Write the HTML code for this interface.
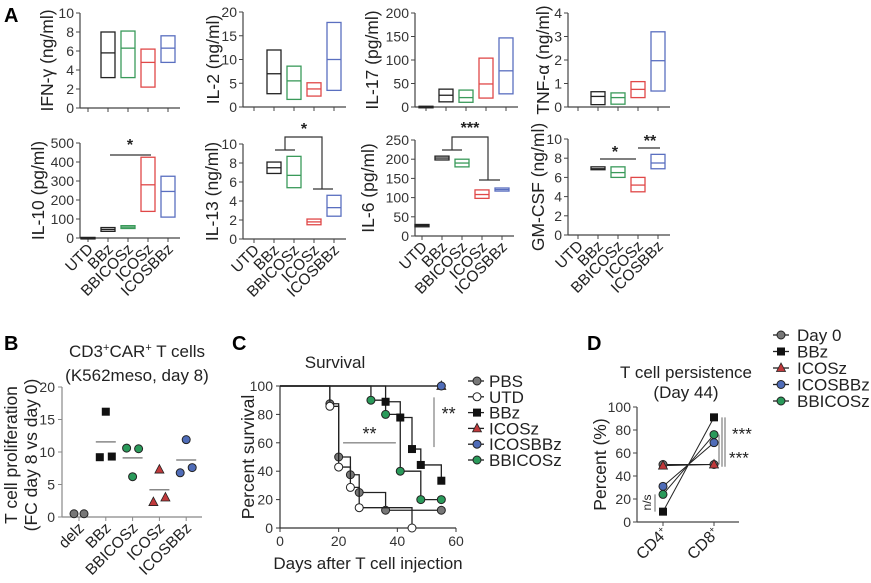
<!DOCTYPE html>
<html><head><meta charset="utf-8"><style>
body{margin:0;background:#fff}
svg{display:block;font-family:"Liberation Sans",sans-serif}
</style></head><body>
<svg id="fig" width="871" height="583" viewBox="0 0 871 583">
<text x="4" y="22" font-size="20" font-weight="bold">A</text>
<text x="4" y="350" font-size="20" font-weight="bold">B</text>
<text x="232" y="350" font-size="20" font-weight="bold">C</text>
<text x="587" y="350" font-size="20" font-weight="bold">D</text>
</svg>
<script>
const cats = ["UTD","BBz","BBICOSz","ICOSz","ICOSBBz"];
const ifnBoxes = [null,[3.2,5.8,8],[3.2,6.3,8.1],[2.2,4.8,6.2],[4.8,6.3,7.6]];
const il2Boxes = [null,[2.8,7,12],[1.6,5.5,8.6],[2.3,3.8,5.1],[3.5,10,17.8]];
const il17Boxes = [[0.5,1,1.5],[11,25,38],[10,20,36],[19,49,104],[28,77,147]];
const tnfBoxes = [null,[0.1,0.45,0.65],[0.12,0.4,0.6],[0.4,0.75,1.08],[0.68,1.97,3.2]];
const il10Boxes = [[1,2,3],[35,45,55],[50,57,65],[140,280,425],[110,245,325]];
const il13Boxes = [null,[6.9,7.5,8.1],[5.4,6.7,8.7],[1.5,1.8,2.1],[2.4,3.3,4.6]];
const il6Boxes = [[24,27,30],[198,203,208],[180,190,200],[98,108,120],[117,121,125]];
const gmBoxes = [null,[6.8,6.9,7.1],[6,6.5,7.1],[4.5,5.2,6],[6.9,7.5,8.4]];
const boxColors = ["#222","#222","#3a9a5a","#e04848","#5a6fc0"];

const bCats = ["delz","BBz","BBICOSz","ICOSz","ICOSBBz"];
const bPoints = [[0.5,0.5],[16.2,9.2,9.3],[10.6,10.5,6.2],[7.3,2.3,3.0],[11.9,6.8,7.6]];
const bTicks = [0,5,10,15,20];

const survNames = ["PBS","UTD","BBz","ICOSz","ICOSBBz","BBICOSz"];
const survDays = [[17,20,24,27,36,55],[17,20,24,27,45],[36,41,45,48,55],[55],[55],[31,36,41,48,55]];
const survPct = [[87.5,50,37.5,25,12.5,12.5],[85.7,42.9,28.6,14.3,0],[88.9,77.8,55.6,44.4,33.3],[100],[100],[90,80,40,20,20]];
const survXTicks = [0,20,40,60];
const survYTicks = [0,20,40,60,80,100];

const dNames = ["Day 0","BBz","ICOSz","ICOSBBz","BBICOSz"];
const dCD4 = [50,9,49,31,24];
const dCD8 = [50,91,50,69,76];
const dYTicks = [0,20,40,60,80,100];

const NS="http://www.w3.org/2000/svg";
const svg=document.getElementById('fig');
function mk(tag,attrs,parent){const e=document.createElementNS(NS,tag);for(const k in attrs)e.setAttribute(k,attrs[k]);(parent||svg).appendChild(e);return e;}
function txt(s,attrs,parent){const e=mk('text',attrs,parent);e.textContent=s;return e;}

const markerFill={"PBS":"#777","Day 0":"#777","UTD":"#fff","BBz":"#111","ICOSz":"#c0393b","ICOSBBz":"#4f6cb8","BBICOSz":"#2a9a5a"};
function marker(name,x,y,r,parent){
  let e;
  if(name==="BBz"){e=mk('rect',{x:x-r,y:y-r,width:2*r,height:2*r,fill:"#111"},parent);}
  else if(name==="ICOSz"){e=mk('polygon',{points:`${x},${y-r-1} ${x-r-0.5},${y+r-0.5} ${x+r+0.5},${y+r-0.5}`,fill:"#c0393b",stroke:"#222","stroke-width":0.8},parent);}
  else {e=mk('circle',{cx:x,cy:y,r:r,fill:markerFill[name],stroke:"#222","stroke-width":1},parent);}
  return e;
}

const aPanels=[
 {id:"ifn",label:"IFN-γ (ng/ml)",ax:80,yT:13,yB:108,max:10,ticks:[0,2,4,6,8,10],x0:88,lx:47,data:ifnBoxes,xl:false},
 {id:"il2",label:"IL-2 (ng/ml)",ax:243,yT:12,yB:107,max:20,ticks:[0,5,10,15,20],x0:254,lx:213,data:il2Boxes,xl:false},
 {id:"il17",label:"IL-17 (pg/ml)",ax:415,yT:13,yB:107,max:200,ticks:[0,50,100,150,200],x0:426,lx:372,data:il17Boxes,xl:false},
 {id:"tnf",label:"TNF-α (ng/ml)",ax:568,yT:13,yB:107,max:4,ticks:[0,1,2,3,4],x0:578,lx:543,data:tnfBoxes,xl:false},
 {id:"il10",label:"IL-10 (pg/ml)",ax:80,yT:143,yB:238,max:500,ticks:[0,100,200,300,400,500],x0:88,lx:38,data:il10Boxes,xl:true},
 {id:"il13",label:"IL-13 (ng/ml)",ax:243,yT:144,yB:239,max:10,ticks:[0,2,4,6,8,10],x0:254,lx:212,data:il13Boxes,xl:true},
 {id:"il6",label:"IL-6 (pg/ml)",ax:415,yT:140,yB:236,max:250,ticks:[0,50,100,150,200,250],x0:422,lx:368,data:il6Boxes,xl:true},
 {id:"gm",label:"GM-CSF (ng/ml)",ax:568,yT:139,yB:235,max:10,ticks:[0,2,4,6,8,10],x0:578,lx:538,data:gmBoxes,xl:true}
];
aPanels.forEach(p=>{
  const g=mk('g',{});
  
  
  const y=v=>p.yB-(v/p.max)*(p.yB-p.yT);
  const x=i=>p.x0+i*20;
  const end=p.x0+92;
  mk('line',{x1:p.ax,y1:p.yT,x2:p.ax,y2:p.yB,stroke:"#444","stroke-width":1.2},g);
  mk('line',{x1:p.ax,y1:p.yB,x2:end,y2:p.yB,stroke:"#444","stroke-width":1.2},g);
  p.ticks.forEach(t=>{
    mk('line',{x1:p.ax-4,y1:y(t),x2:p.ax,y2:y(t),stroke:"#444"},g);
    const tl=txt(String(t),{x:p.ax-6,y:y(t)+5,"font-size":14,"text-anchor":"end",fill:"#333"},g);
    
    
  });
  cats.forEach((c,i)=>{
    mk('line',{x1:x(i),y1:p.yB,x2:x(i),y2:p.yB+4,stroke:"#444"},g);
    if(p.xl){
      const cl=txt(c,{x:0,y:0,"font-size":15.5,"text-anchor":"end",fill:"#222",transform:`translate(${x(i)+6},${p.yB+12}) rotate(-45)`},g);
      
      
    }
    const d=p.data[i]; if(!d) return;
    const bx=mk('rect',{x:x(i)-7,y:y(d[2]),width:14,height:Math.max(1.5,y(d[0])-y(d[2])),fill:"none",stroke:boxColors[i],"stroke-width":1.3},g);
    
    
    mk('line',{x1:x(i)-7,y1:y(d[1]),x2:x(i)+7,y2:y(d[1]),stroke:boxColors[i],"stroke-width":1.3},g);
  });
  const yl=txt(p.label,{x:0,y:0,"font-size":17.5,"text-anchor":"middle","dominant-baseline":"central",fill:"#222",transform:`translate(${p.lx},${(p.yT+p.yB)/2}) rotate(-90)`},g);
  
  
});
function sig(pts,star,sx,sy){const g=mk('g',{});mk('polyline',{points:pts,fill:"none",stroke:"#333","stroke-width":1.2},g);if(star)txt(star,{x:sx,y:sy,"font-size":16,"text-anchor":"middle","font-weight":"bold",fill:"#222"},g);}
sig("110,155 151,155","*",130,150);
sig("275,150 295,150","",0,0);
sig("285,150 285,137 322,137 322,189","*",304,134);
sig("313,189 333,189","",0,0);
sig("442,150 462,150","",0,0);
sig("452,150 452,137 488,137 488,180","***",470,133);
sig("479,180 500,180","",0,0);
sig("600,159 636,159","*",615,157);
sig("638,148 660,148","**",650,146);

// Panel B
(function(){
  const ax=62,yT=387,yB=517,max=20;
  const y=v=>yB-(v/max)*(yB-yT);
  const x=i=>79+i*26.8;
  const g=mk('g',{});
  mk('line',{x1:ax,y1:yT,x2:ax,y2:yB,stroke:"#888","stroke-width":1.2},g);
  mk('line',{x1:ax,y1:yB,x2:202,y2:yB,stroke:"#888","stroke-width":1.2},g);
  bTicks.forEach(t=>{mk('line',{x1:ax-4,y1:y(t),x2:ax,y2:y(t),stroke:"#888"},g);txt(String(t),{x:ax-7,y:y(t)+5,"font-size":14,"text-anchor":"end",fill:"#333"},g);});
  const names=["Day 0","BBz","BBICOSz","ICOSz","ICOSBBz"];
  const offs2=[[-5,5],[0,-6,6],[-6,6,0],[0,-6,6],[0,-6,6]];
  bCats.forEach((c,i)=>{
    mk('line',{x1:x(i),y1:yB,x2:x(i),y2:yB+4,stroke:"#888"},g);
    const cl=txt(c,{x:0,y:0,"font-size":15.5,"text-anchor":"end",fill:"#222",transform:`translate(${x(i)+6},${yB+12}) rotate(-45)`},g);
    
    const pts=bPoints[i];
    const mean=pts.reduce((a,b)=>a+b,0)/pts.length;
    if(i>0) mk('line',{x1:x(i)-10,y1:y(mean),x2:x(i)+10,y2:y(mean),stroke:"#888","stroke-width":1.5},g);
    pts.forEach((v,j)=>{const m=marker(names[i],x(i)+offs2[i][j],y(v),4,g);});
  });
  const t1=txt("",{x:137,y:357,"font-size":17,"text-anchor":"middle",fill:"#222"},g);
  t1.innerHTML='CD3<tspan font-size="11" dy="-6">+</tspan><tspan dy="6">CAR</tspan><tspan font-size="11" dy="-6">+</tspan><tspan dy="6"> T cells</tspan>';
  txt("(K562meso, day 8)",{x:137,y:381,"font-size":17,"text-anchor":"middle",fill:"#222"},g);
  txt("T cell proliferation",{x:0,y:0,"font-size":17.5,"text-anchor":"middle",transform:"translate(17,455) rotate(-90)",fill:"#222"},g);
  txt("(FC day 8 vs day 0)",{x:0,y:0,"font-size":17.5,"text-anchor":"middle",transform:"translate(37,455) rotate(-90)",fill:"#222"},g);
})();

// Panel C
(function(){
  const ax=280,yT=386,yB=528,xR=456;
  const x=d=>ax+(d/60)*(xR-ax);
  const y=v=>yB-(v/100)*(yB-yT);
  const g=mk('g',{});
  mk('line',{x1:ax,y1:yT,x2:ax,y2:yB,stroke:"#333","stroke-width":1.2},g);
  mk('line',{x1:ax,y1:yB,x2:xR,y2:yB,stroke:"#333","stroke-width":1.2},g);
  survYTicks.forEach(t=>{mk('line',{x1:ax-4,y1:y(t),x2:ax,y2:y(t),stroke:"#333"},g);txt(String(t),{x:ax-7,y:y(t)+5,"font-size":14,"text-anchor":"end",fill:"#333"},g);});
  survXTicks.forEach(t=>{mk('line',{x1:x(t),y1:yB,x2:x(t),y2:yB+4,stroke:"#333"},g);txt(String(t),{x:x(t),y:yB+18,"font-size":14,"text-anchor":"middle",fill:"#333"},g);});
  [0,1,5,2,3,4].forEach(k=>{
    const ds=survDays[k],ps=survPct[k];
    let pts=`${x(0)},${y(100)}`;let prev=100;
    ds.forEach((d,j)=>{pts+=` ${x(d)},${y(prev)} ${x(d)},${y(ps[j])}`;prev=ps[j];});
    const l=mk('polyline',{points:pts,fill:"none",stroke:"#222","stroke-width":1.3},g);
    
    ds.forEach((d,j)=>{const m=marker(survNames[k],x(d),y(ps[j]),4,g);});
  });
  mk('line',{x1:x(21.5),y1:y(60),x2:x(39.5),y2:y(60),stroke:"#888","stroke-width":1.3},g);
  txt("**",{x:x(30.5),y:y(62),"font-size":18,"text-anchor":"middle",fill:"#222"},g);
  mk('line',{x1:x(52.5),y1:y(92),x2:x(52.5),y2:y(57),stroke:"#888","stroke-width":1.3},g);
  txt("**",{x:x(57.5),y:y(76),"font-size":18,"text-anchor":"middle",fill:"#222"},g);
  txt("Survival",{x:335,y:368,"font-size":17,"text-anchor":"middle",fill:"#222"},g);
  txt("Days after T cell injection",{x:368,y:569,"font-size":17,"text-anchor":"middle",fill:"#222"},g);
  txt("Percent survival",{x:0,y:0,"font-size":17.5,"text-anchor":"middle",transform:`translate(254,${(yT+yB)/2}) rotate(-90)`,fill:"#222"},g);
  survNames.forEach((n,i)=>{
    const lg=mk('g',{});
    const yy=381+i*15.8;
    mk('line',{x1:468,y1:yy,x2:484,y2:yy,stroke:"#222","stroke-width":1.3},lg);
    marker(n,477,yy,4,lg);
    txt(n,{x:489,y:yy+6,"font-size":17,fill:"#222"},lg);
  });
})();

// Panel D
(function(){
  const ax=637,yT=407,yB=522;
  const y=v=>yB-(v/100)*(yB-yT);
  const xs=[663,714];
  const g=mk('g',{});
  mk('line',{x1:ax,y1:yT,x2:ax,y2:yB,stroke:"#444","stroke-width":1.2},g);
  mk('line',{x1:ax,y1:yB,x2:739,y2:yB,stroke:"#444","stroke-width":1.2},g);
  dYTicks.forEach(t=>{mk('line',{x1:ax-4,y1:y(t),x2:ax,y2:y(t),stroke:"#444"},g);txt(String(t),{x:ax-6,y:y(t)+5,"font-size":14,"text-anchor":"end",fill:"#333"},g);});
  xs.forEach(xx=>mk('line',{x1:xx,y1:yB,x2:xx,y2:yB+4,stroke:"#444"},g));
  dNames.forEach((n,i)=>{mk('line',{x1:xs[0],y1:y(dCD4[i]),x2:xs[1],y2:y(dCD8[i]),stroke:"#222","stroke-width":1},g);});
  dNames.forEach((n,i)=>{
    [dCD4[i],dCD8[i]].forEach((v,j)=>{const m=marker(n,xs[j],y(v),4,g);});
  });
  const l1=txt("",{x:0,y:0,"font-size":16,"text-anchor":"end",fill:"#222",transform:`translate(${xs[0]+6},${yB+12}) rotate(-45)`},g);
  l1.innerHTML='CD4<tspan font-size="9" dy="-6">+</tspan>';
  const l2=txt("",{x:0,y:0,"font-size":16,"text-anchor":"end",fill:"#222",transform:`translate(${xs[1]+6},${yB+12}) rotate(-45)`},g);
  l2.innerHTML='CD8<tspan font-size="9" dy="-6">+</tspan>';
  mk('line',{x1:722,y1:y(91),x2:722,y2:y(48),stroke:"#666"},g);
  mk('line',{x1:725,y1:y(91),x2:725,y2:y(48),stroke:"#666"},g);
  txt("***",{x:732,y:y(76)+5,"font-size":17,fill:"#222"},g);
  mk('line',{x1:719,y1:y(76),x2:719,y2:y(50),stroke:"#666"},g);
  txt("***",{x:729,y:y(56)+6,"font-size":17,fill:"#222"},g);
  mk('line',{x1:655,y1:y(9),x2:655,y2:y(24),stroke:"#666"},g);
  txt("n/s",{x:0,y:0,"font-size":12,"text-anchor":"middle",fill:"#222",transform:`translate(651,${y(17)}) rotate(-90)`},g);
  txt("T cell persistence",{x:686,y:378,"font-size":17,"text-anchor":"middle",fill:"#222"},g);
  txt("(Day 44)",{x:686,y:398,"font-size":17,"text-anchor":"middle",fill:"#222"},g);
  txt("Percent (%)",{x:0,y:0,"font-size":17.5,"text-anchor":"middle",transform:`translate(606,${(yT+yB)/2}) rotate(-90)`,fill:"#222"},g);
  dNames.forEach((n,i)=>{
    const lg=mk('g',{});
    const yy=335+i*16.5;
    mk('line',{x1:773,y1:yy,x2:789,y2:yy,stroke:"#222","stroke-width":1.3},lg);
    marker(n,781,yy,4,lg);
    txt(n,{x:797,y:yy+6,"font-size":17,fill:"#222"},lg);
  });
})();
</script>
</body></html>
